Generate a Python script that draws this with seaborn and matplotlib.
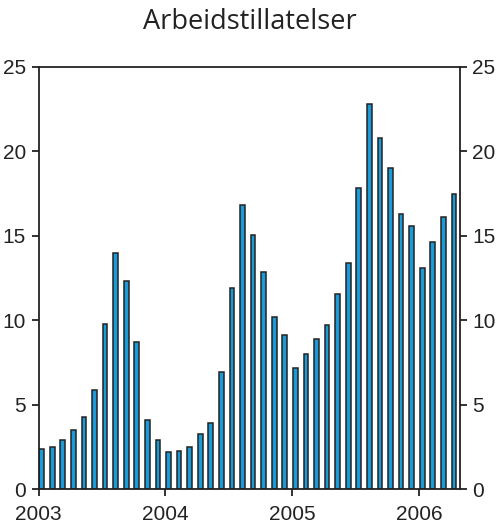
import numpy as np
import pandas as pd
import seaborn as sns
import matplotlib.pyplot as plt

# ── Data: monthly values Jan 2003 – Apr 2006 ─────────────────────────
years = ["2003", "2004", "2005", "2006"]
values_2003 = [2.4, 2.5, 2.9, 3.5, 4.3, 5.9, 9.8, 14.0, 12.3, 8.7, 4.1, 2.9]
values_2004 = [2.2, 2.3, 2.5, 3.25, 3.95, 6.95, 11.9, 16.8, 15.05, 12.85, 10.2, 9.15]
values_2005 = [7.2, 8.0, 8.9, 9.7, 11.55, 13.4, 17.8, 22.8, 20.8, 19.0, 16.3, 15.6]
values_2006 = [13.1, 14.6, 16.1, 17.45]

values = values_2003 + values_2004 + values_2005 + values_2006
df = pd.DataFrame({"month": np.arange(len(values)), "value": values})

BAR_COLOR = "#1a9ad6"
EDGE_COLOR = "#222222"

sns.set_style("ticks")
plt.rcParams["font.family"] = ["Liberation Sans", "DejaVu Sans"]

fig = plt.figure(figsize=(5.0, 5.28), dpi=100)
ax = fig.add_axes([0.077, 0.073, 0.843, 0.801])

sns.barplot(data=df, x="month", y="value", color=BAR_COLOR, width=0.45,
            edgecolor=EDGE_COLOR, linewidth=1.1, saturation=1, ax=ax)

ax.set_xlim(-0.3, 39.57)
ax.set_ylim(0, 25)
ax.set_xticks([-0.3 + 12 * i for i in range(len(years))])
ax.set_xticklabels(years)
ax.set_yticks(range(0, 26, 5))
ax.set_xlabel("")
ax.set_ylabel("")

for side in ["left", "right", "top", "bottom"]:
    ax.spines[side].set_visible(True)
    ax.spines[side].set_linewidth(1.3)
    ax.spines[side].set_color("#222222")

ax.tick_params(axis="both", direction="out", length=5, width=1.3,
               colors="#222222", labelsize=15, labelcolor="#222222")
ax.tick_params(axis="y", right=True, labelright=True, pad=4)
ax.tick_params(axis="x", pad=6)

fig.text(0.5, 0.958, "Arbeidstillatelser", ha="center", va="center",
         fontsize=19.5, family="Open Sans", color="#222222")

fig.savefig("out.png", dpi=100)
